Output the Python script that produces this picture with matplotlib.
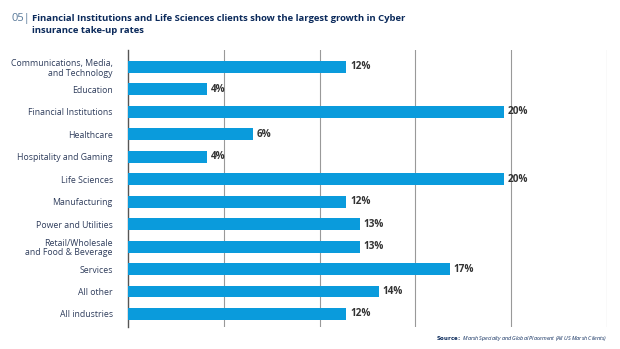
import numpy as np
import matplotlib.pyplot as plt

plt.rcParams['font.family'] = ['Open Sans', 'DejaVu Sans']

categories = ['Communications, Media,\nand Technology', 'Education', 'Financial Institutions',
              'Healthcare', 'Hospitality and Gaming', 'Life Sciences', 'Manufacturing',
              'Power and Utilities', 'Retail/Wholesale\nand Food & Beverage', 'Services',
              'All other', 'All industries']
# bar lengths as drawn in the source chart, and the printed labels
values = [11.4, 4.1, 19.6, 6.5, 4.1, 19.6, 11.4, 12.1, 12.1, 16.8, 13.1, 11.4]
labels = ['12%', '4%', '20%', '6%', '4%', '20%', '12%', '13%', '13%', '17%', '14%', '12%']
grid_pos = [5, 10, 15, 20, 25]

bar_color = '#0A9BDC'
label_color = '#2F3D5C'
navy = '#0B2A5B'

fig = plt.figure(figsize=(6.2, 3.49), dpi=100)
ax = fig.add_axes([0.2065, 0.063, 0.7725, 0.794])

y = np.arange(len(categories))
ax.barh(y, values, height=0.53, color=bar_color, zorder=3)
for yi, v, lab in zip(y, values, labels):
    ax.text(v + 0.2, yi, lab, va='center', ha='left', fontsize=7.2,
            fontweight='bold', color='#333333')

ax.set_ylim(len(categories) - 0.42, -0.76)
ax.set_xlim(0, 25)
ax.set_yticks(y)
ax.set_yticklabels(categories, fontsize=6.3, color=label_color, linespacing=1.1)
ax.tick_params(axis='y', length=0, pad=11)
ax.set_xticks(grid_pos)
ax.tick_params(axis='x', length=0, labelbottom=False)
ax.grid(axis='x', color='#999999', linewidth=0.8, zorder=0)

for s in ['top', 'right', 'bottom']:
    ax.spines[s].set_visible(False)
ax.spines['left'].set_color('#555555')
ax.spines['left'].set_linewidth(1.0)

fig.text(0.019, 0.948, '05|', fontsize=8, color='#5A7A9A', va='center')
fig.text(0.052, 0.948, 'Financial Institutions and Life Sciences clients show the largest growth in Cyber',
         fontsize=6.8, fontweight='bold', color=navy, va='center')
fig.text(0.052, 0.912, 'insurance take-up rates', fontsize=6.8, fontweight='bold', color=navy, va='center')

fig.text(0.979, 0.03, r'$\bf{Source:}$ Marsh Specialty and Global Placement (All US Marsh Clients)',
         fontsize=3.9, style='italic', color=navy, ha='right', va='center')

fig.savefig('out.png', dpi=100)
